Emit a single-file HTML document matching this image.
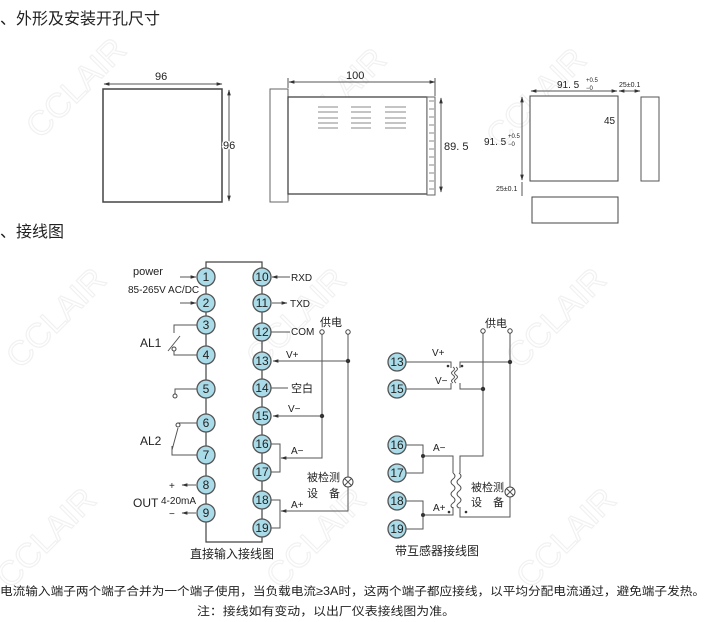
<!DOCTYPE html>
<html><head><meta charset="utf-8"><style>
html,body{margin:0;padding:0;background:#fff;width:718px;height:622px;overflow:hidden}
svg{display:block}
text{font-family:"Liberation Sans","Noto Sans CJK SC",sans-serif;fill:#222}
.c{fill:#a9dbe8;stroke:#555;stroke-width:1.3}
.n{font-size:12px;text-anchor:middle}
.l{stroke:#444;stroke-width:1.2;fill:none}
.t{stroke:#555;stroke-width:1;fill:none}
.w{fill:none !important;stroke:#f1f1f1;stroke-width:1.2}
</style></head><body>
<svg width="718" height="622" viewBox="0 0 718 622" xmlns="http://www.w3.org/2000/svg">
<defs>
<marker id="a" viewBox="0 0 10 10" refX="9" refY="5" markerWidth="6" markerHeight="6" orient="auto-start-reverse"><path d="M0,2L10,5L0,8z" fill="#333"/></marker>
</defs>
<g font-size="34">
<text class="w" transform="translate(40,140) rotate(-45)">CCLAIR</text>
<text class="w" transform="translate(300,150) rotate(-45)">CCLAIR</text>
<text class="w" transform="translate(500,150) rotate(-45)">CCLAIR</text>
<text class="w" transform="translate(20,370) rotate(-45)">CCLAIR</text>
<text class="w" transform="translate(260,370) rotate(-45)">CCLAIR</text>
<text class="w" transform="translate(520,370) rotate(-45)">CCLAIR</text>
<text class="w" transform="translate(10,590) rotate(-45)">CCLAIR</text>
<text class="w" transform="translate(280,590) rotate(-45)">CCLAIR</text>
<text class="w" transform="translate(530,590) rotate(-45)">CCLAIR</text>
</g>

<text x="0" y="24" font-size="16">、外形及安装开孔尺寸</text>
<text x="0" y="237" font-size="16">、接线图</text>

<!-- front -->
<rect x="103" y="89" width="119" height="113" fill="#fff" stroke="#444" stroke-width="1.5"/>
<line x1="104" y1="84" x2="222" y2="84" class="t" marker-start="url(#a)" marker-end="url(#a)"/>
<text x="155" y="80" font-size="11">96</text>
<line x1="229" y1="90" x2="229" y2="201" class="t" marker-start="url(#a)" marker-end="url(#a)"/>
<text x="223" y="149" font-size="11" style="paint-order:stroke" stroke="#fff" stroke-width="3">96</text>

<!-- side -->
<rect x="270" y="89" width="18" height="113" fill="#fff" stroke="#666"/>
<rect x="288" y="97" width="139" height="97" fill="#fff" stroke="#444" stroke-width="1.3"/>
<rect x="427" y="97" width="8" height="98" fill="#fff" stroke="#666"/>
<g stroke="#888">
<path d="M429,101h5M429,109h5M429,117h5M429,125h5M429,133h5M429,141h5M429,149h5M429,157h5M429,165h5M429,173h5M429,181h5M429,189h5"/>
<path d="M318,107h20M318,112h20M318,118h20M318,123h20M318,128h20"/>
<path d="M351,107h20M351,112h20M351,118h20M351,123h20M351,128h20"/>
<path d="M385,107h21M385,112h21M385,118h21M385,123h21M385,128h21"/>
</g>
<line x1="289" y1="82" x2="435" y2="82" class="t" marker-start="url(#a)" marker-end="url(#a)"/>
<line x1="288" y1="78" x2="288" y2="88" class="t"/><line x1="435" y1="78" x2="435" y2="96" class="t"/>
<text x="346" y="79" font-size="11">100</text>
<line x1="441" y1="98" x2="441" y2="192" class="t" marker-start="url(#a)" marker-end="url(#a)"/>
<text x="444" y="150" font-size="11">89. 5</text>

<!-- cutout -->
<rect x="530" y="96" width="88" height="85" fill="#fff" stroke="#444"/>
<rect x="641" y="97" width="18" height="84" fill="#fff" stroke="#555"/>
<rect x="532" y="197" width="86" height="26" fill="#fff" stroke="#444"/>
<line x1="531" y1="91" x2="617" y2="91" class="t" marker-start="url(#a)" marker-end="url(#a)"/>
<text x="557" y="88" font-size="10">91. 5</text><text x="586" y="82" font-size="6">+0.5</text><text x="586" y="90" font-size="6">−0</text>
<line x1="619" y1="91" x2="640" y2="91" class="t" marker-start="url(#a)" marker-end="url(#a)"/>
<text x="619" y="87" font-size="7">25±0.1</text>
<line x1="522" y1="97" x2="522" y2="180" class="t" marker-start="url(#a)" marker-end="url(#a)"/>
<text x="484" y="145" font-size="10">91. 5</text><text x="508" y="138" font-size="6">+0.5</text><text x="508" y="146" font-size="6">−0</text>
<text x="604" y="124" font-size="10">45</text>
<line x1="522" y1="182" x2="522" y2="196" class="t"/>
<text x="496" y="191" font-size="7">25±0.1</text>

<!-- direct wiring -->
<path class="l" d="M206,262V542H262V262Z"/>
<g class="c">
<circle cx="206" cy="277" r="9"/><circle cx="206" cy="303" r="9"/><circle cx="206" cy="325" r="9"/>
<circle cx="206" cy="355" r="9"/><circle cx="206" cy="389" r="9"/><circle cx="206" cy="423" r="9"/>
<circle cx="206" cy="455" r="9"/><circle cx="206" cy="485" r="9"/><circle cx="206" cy="513" r="9"/>
<circle cx="262" cy="277" r="9"/><circle cx="262" cy="303" r="9"/><circle cx="262" cy="332" r="9"/>
<circle cx="262" cy="361" r="9"/><circle cx="262" cy="388" r="9"/><circle cx="262" cy="416" r="9"/>
<circle cx="262" cy="444" r="9"/><circle cx="262" cy="472" r="9"/><circle cx="262" cy="500" r="9"/>
<circle cx="262" cy="528" r="9"/>
</g>
<g class="n">
<text x="206" y="281">1</text><text x="206" y="307">2</text><text x="206" y="329">3</text>
<text x="206" y="359">4</text><text x="206" y="393">5</text><text x="206" y="427">6</text>
<text x="206" y="459">7</text><text x="206" y="489">8</text><text x="206" y="517">9</text>
<text x="262" y="281">10</text><text x="262" y="307">11</text><text x="262" y="336">12</text>
<text x="262" y="365">13</text><text x="262" y="392">14</text><text x="262" y="420">15</text>
<text x="262" y="448">16</text><text x="262" y="476">17</text><text x="262" y="504">18</text>
<text x="262" y="532">19</text>
</g>
<text x="133" y="275" font-size="11">power</text>
<text x="128" y="293" font-size="10">85-265V AC/DC</text>
<line x1="180" y1="277" x2="196" y2="277" class="t" marker-end="url(#a)"/>
<line x1="180" y1="303" x2="196" y2="303" class="t" marker-end="url(#a)"/>
<line x1="290" y1="277" x2="272" y2="277" class="t" marker-end="url(#a)"/>
<line x1="272" y1="303" x2="287" y2="303" class="t" marker-end="url(#a)"/>
<text x="291" y="281" font-size="10">RXD</text><text x="290" y="307" font-size="10">TXD</text>
<line x1="271" y1="332" x2="290" y2="332" class="t"/><text x="291" y="335" font-size="10">COM</text>
<path class="t" d="M197,325H174V333M197,355H174V351M168,351L180,336"/>
<circle cx="174" cy="349" r="2" fill="#fff" stroke="#444"/>
<text x="140" y="347" font-size="12">AL1</text>
<path class="t" d="M197,389H175V394"/><circle cx="175" cy="396" r="2" fill="#fff" stroke="#444"/>
<path class="t" d="M197,423H178V425M197,455H172V446M172,450L178,428"/>
<circle cx="178" cy="425" r="2" fill="#fff" stroke="#444"/>
<text x="140" y="445" font-size="12">AL2</text>
<line x1="196" y1="485" x2="182" y2="485" class="t" marker-end="url(#a)"/>
<line x1="196" y1="513" x2="182" y2="513" class="t" marker-end="url(#a)"/>
<text x="169" y="489" font-size="10">+</text><text x="169" y="517" font-size="10">−</text>
<text x="161" y="504" font-size="10">4-20mA</text><text x="133" y="507" font-size="12">OUT</text>
<text x="286" y="358" font-size="10">V+</text>
<text x="288" y="412" font-size="10">V−</text>
<line x1="271" y1="388" x2="288" y2="388" class="t"/><text x="291" y="392" font-size="11">空白</text>
<text x="320" y="326" font-size="11">供电</text>
<path class="t" d="M322,334V458H283M348,334V477M348,487V511H283"/>
<line x1="348" y1="361" x2="273" y2="361" class="t" marker-end="url(#a)"/>
<line x1="322" y1="416" x2="273" y2="416" class="t" marker-end="url(#a)"/>
<line x1="322" y1="458" x2="281" y2="458" class="t" marker-end="url(#a)"/>
<line x1="348" y1="511" x2="281" y2="511" class="t" marker-end="url(#a)"/>
<circle cx="322" cy="332" r="2.2" fill="#fff" stroke="#444"/><circle cx="348" cy="332" r="2.2" fill="#fff" stroke="#444"/>
<circle cx="348" cy="361" r="2.2" fill="#333"/><circle cx="322" cy="416" r="2.2" fill="#333"/>
<path class="t" d="M271,444H280V472H271M271,500H280V528H271"/>
<text x="291" y="454" font-size="10">A−</text><text x="291" y="508" font-size="10">A+</text>
<circle cx="348" cy="482" r="5" fill="#fff" stroke="#444"/><path class="t" d="M344.5,478.5l7,7M351.5,478.5l-7,7"/>
<text x="307" y="481" font-size="11">被检测</text><text x="307" y="497" font-size="11">设　备</text>
<text x="190" y="558" font-size="12">直接输入接线图</text>

<!-- CT wiring -->
<g class="c"><circle cx="397" cy="362" r="9"/><circle cx="397" cy="389" r="9"/><circle cx="397" cy="445" r="9"/><circle cx="397" cy="473" r="9"/><circle cx="397" cy="501" r="9"/><circle cx="397" cy="529" r="9"/></g>
<g class="n"><text x="397" y="366">13</text><text x="397" y="393">15</text><text x="397" y="449">16</text><text x="397" y="477">17</text><text x="397" y="505">18</text><text x="397" y="533">19</text></g>
<text x="485" y="327" font-size="11">供电</text>
<path class="t" d="M406,362H451V368M406,389H451V383M460,368V362H510M460,383V389H483M483,333V456H460V473M510,333V487M510,497V517H460V507M406,445H423V473H406M406,501H423V529H406M423,456H453V473M423,515H453V507"/>
<path class="t" d="M453,367q3,2 0,4q-3,2 0,4q3,2 0,4q-3,2 0,4M456,367q3,2 0,4q-3,2 0,4q3,2 0,4q-3,2 0,4"/>
<path class="t" d="M453,473q4,3 0,6q-4,3 0,6q4,3 0,6q-4,3 0,6q4,3 0,6q-4,3 0,5M459,473q4,3 0,6q-4,3 0,6q4,3 0,6q-4,3 0,6q4,3 0,6q-4,3 0,5"/>
<circle cx="483" cy="331" r="2.2" fill="#fff" stroke="#444"/><circle cx="510" cy="331" r="2.2" fill="#fff" stroke="#444"/>
<circle cx="510" cy="362" r="2.2" fill="#333"/><circle cx="483" cy="389" r="2.2" fill="#333"/>
<circle cx="423" cy="456" r="2" fill="#333"/><circle cx="423" cy="515" r="2" fill="#333"/>
<circle cx="448" cy="366" r="1.3" fill="#333"/><circle cx="462" cy="366" r="1.3" fill="#333"/>
<circle cx="449" cy="512" r="1.3" fill="#333"/><circle cx="466" cy="512" r="1.3" fill="#333"/>
<text x="432" y="356" font-size="10">V+</text><text x="435" y="384" font-size="10">V−</text>
<text x="433" y="451" font-size="10">A−</text><text x="433" y="511" font-size="10">A+</text>
<circle cx="510" cy="492" r="5" fill="#fff" stroke="#444"/><path class="t" d="M506.5,488.5l7,7M513.5,488.5l-7,7"/>
<text x="471" y="491" font-size="11">被检测</text><text x="471" y="506" font-size="11">设　备</text>
<text x="395" y="555" font-size="12">带互感器接线图</text>

<text x="0" y="595" font-size="11.5" textLength="705" lengthAdjust="spacingAndGlyphs">电流输入端子两个端子合并为一个端子使用，当负载电流≥3A时，这两个端子都应接线，以平均分配电流通过，避免端子发热。</text>
<text x="197" y="615" font-size="11.5" textLength="258" lengthAdjust="spacingAndGlyphs">注：接线如有变动，以出厂仪表接线图为准。</text>
</svg>
</body></html>
